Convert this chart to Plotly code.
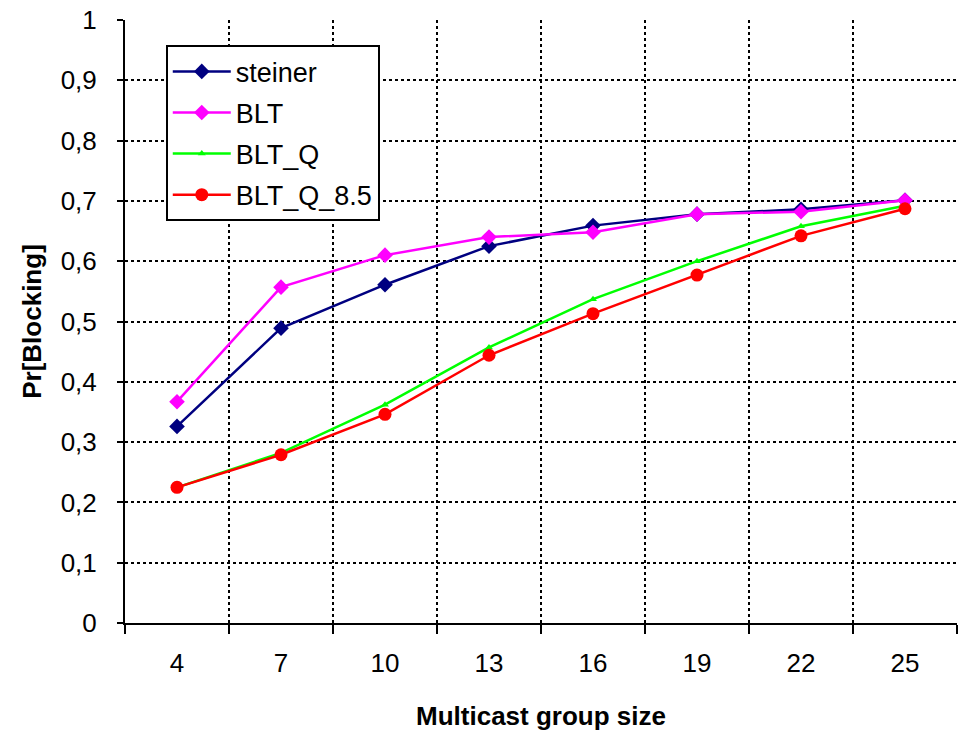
import plotly.graph_objects as go

# Multicast group sizes (category axis)
group_sizes = ["4", "7", "10", "13", "16", "19", "22", "25"]

# Blocking probability per algorithm
steiner = [0.326, 0.489, 0.561, 0.625, 0.659, 0.678, 0.686, 0.701]
blt = [0.367, 0.557, 0.610, 0.640, 0.648, 0.678, 0.682, 0.701]
blt_q = [0.225, 0.282, 0.362, 0.457, 0.537, 0.600, 0.658, 0.692]
blt_q_85 = [0.225, 0.279, 0.346, 0.444, 0.513, 0.577, 0.642, 0.687]

FONT = "Liberation Sans, Arial, sans-serif"

series = [
    ("steiner", steiner, "#000080", "diamond", 12),
    ("BLT", blt, "#FF00FF", "diamond", 12),
    ("BLT_Q", blt_q, "#00FF00", "triangle-up", 7),
    ("BLT_Q_8.5", blt_q_85, "#FF0000", "circle", 13),
]

fig = go.Figure()
for name, vals, color, symbol, size in series:
    fig.add_trace(go.Scatter(
        x=group_sizes, y=vals, name=name, legendgroup=name,
        mode="lines+markers",
        line=dict(color=color, width=2.5),
        marker=dict(color=color, symbol=symbol, size=size,
                    line=dict(width=0)),
    ))

fig.update_layout(
    width=959, height=731,
    margin=dict(l=125, r=2, t=20, b=108),
    paper_bgcolor="white", plot_bgcolor="white",
    separators=", ",
    font=dict(family=FONT, size=26, color="black"),
    showlegend=True,
    legend=dict(
        x=0.049, y=0.958, xanchor="left", yanchor="top",
        bgcolor="white", bordercolor="black", borderwidth=2,
        font=dict(family=FONT, size=27, color="black"),
        tracegroupgap=3, itemwidth=58,
    ),
    xaxis=dict(
        type="category", range=[-0.5, 7.5],
        tickson="boundaries", ticks="outside", ticklen=9,
        tickwidth=2, tickcolor="black",
        showline=True, linecolor="black", linewidth=2,
        showgrid=True, gridcolor="black", gridwidth=2, griddash="dot",
        tickfont=dict(size=26), ticklabelstandoff=16,
        title=dict(text="<b>Multicast group size</b>", standoff=30,
                   font=dict(size=26)),
    ),
    yaxis=dict(
        range=[0, 1], dtick=0.1, tick0=0,
        ticks="outside", ticklen=6, tickwidth=2, tickcolor="black",
        showline=True, linecolor="black", linewidth=2,
        showgrid=True, gridcolor="black", gridwidth=2, griddash="dot",
        zeroline=False,
        tickfont=dict(size=26), ticklabelstandoff=15,
        title=dict(text="<b>Pr[Blocking]</b>", standoff=12,
                   font=dict(size=26)),
    ),
)

fig.write_html("out.html")
